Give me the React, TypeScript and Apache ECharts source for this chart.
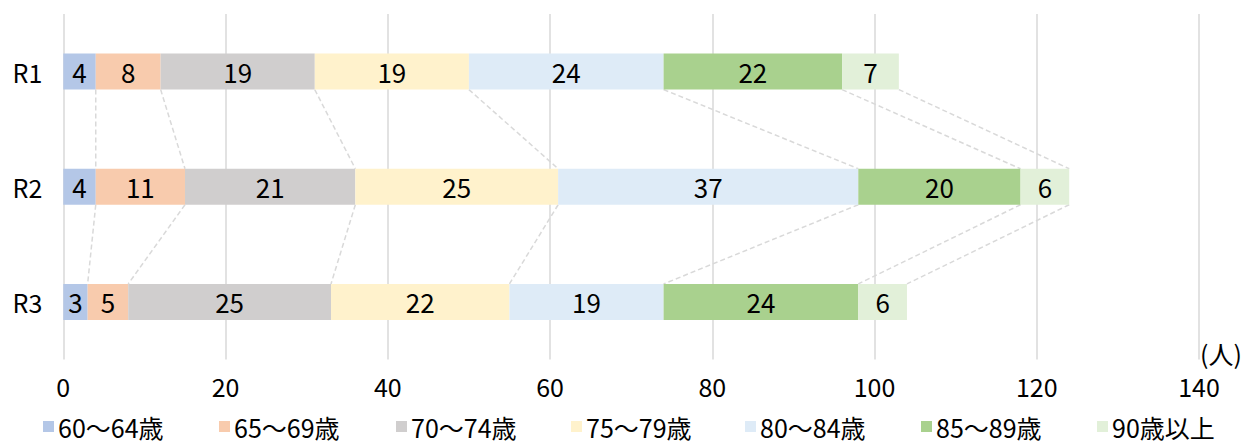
import React, { useEffect, useRef } from "react";
import * as echarts from "echarts";

const categories = ["R1", "R2", "R3"];
const seriesNames = ["60～64歳", "65～69歳", "70～74歳", "75～79歳", "80～84歳", "85～89歳", "90歳以上"];
const seriesColors = ["#b4c7e7", "#f8cbad", "#d0cece", "#fff2cc", "#deebf7", "#a9d18e", "#e2f0d9"];
// values[series][category]
const values = [
  [4, 4, 3],
  [8, 11, 5],
  [19, 21, 25],
  [19, 25, 22],
  [24, 37, 19],
  [22, 20, 24],
  [7, 6, 6],
];
const xMin = 0;
const xMax = 140;
const xInterval = 20;
const xUnit = "(人)";
const legendLefts = [43, 219, 396, 571, 745, 921, 1097];

const FONT = '"Noto Sans CJK JP", "Noto Sans", sans-serif';
const BAR_W = 36;

function buildConnectors() {
  const cum: number[][] = categories.map((_, c) => {
    let s = 0;
    return values.map((row) => (s += row[c]));
  });
  const out: number[][] = [];
  for (let c = 0; c < categories.length - 1; c++) {
    for (let k = 0; k < values.length; k++) {
      out.push([cum[c][k], c, cum[c + 1][k], c + 1]);
    }
  }
  return out;
}

export default function App() {
  const ref = useRef<HTMLDivElement>(null);
  useEffect(() => {
    if (!ref.current) return;
    const chart = echarts.init(ref.current, undefined, { renderer: "svg" });
    const bars = seriesNames.map((name, i) => ({
      name,
      type: "bar",
      stack: "total",
      barWidth: BAR_W,
      data: values[i],
      itemStyle: { color: seriesColors[i] },
      label: {
        show: true,
        position: "inside",
        color: "#000",
        fontSize: 26,
        fontFamily: FONT,
      },
      z: 3,
    }));
    const connectors = {
      type: "custom",
      silent: true,
      z: 2,
      encode: { x: [0, 2], y: [1, 3] },
      data: buildConnectors(),
      renderItem: (params: any, api: any) => {
        const p1 = api.coord([api.value(0), api.value(1)]);
        const p2 = api.coord([api.value(2), api.value(3)]);
        return {
          type: "line",
          shape: { x1: p1[0], y1: p1[1] + BAR_W / 2, x2: p2[0], y2: p2[1] - BAR_W / 2 },
          style: { stroke: "#d9d9d9", lineWidth: 1.5, lineDash: [5, 3] },
        };
      },
    };
    chart.setOption({
      animation: false,
      textStyle: { fontFamily: FONT },
      grid: { left: 63.3, right: 46, top: 14, bottom: 84.5, containLabel: false },
      legend: seriesNames.map((name, i) => ({
        data: [name],
        left: legendLefts[i],
        top: 414,
        padding: 0,
        icon: "rect",
        itemWidth: 11,
        itemHeight: 11,
        itemGap: 5,
        selectedMode: false,
        textStyle: { fontSize: 25, color: "#000", fontFamily: FONT, padding: [0, 0, 0, -1] },
      })),
      xAxis: {
        type: "value",
        min: xMin,
        max: xMax,
        interval: xInterval,
        axisLine: { show: false },
        axisTick: { show: false },
        splitLine: { lineStyle: { color: "#d9d9d9", width: 1.5 } },
        axisLabel: { fontSize: 25, color: "#000", margin: 14, fontFamily: FONT },
      },
      yAxis: {
        type: "category",
        inverse: true,
        data: categories,
        axisLine: { show: false },
        axisTick: { show: false },
        axisLabel: { fontSize: 25, color: "#000", margin: 21, fontFamily: FONT },
      },
      graphic: [
        {
          type: "text",
          left: 1200,
          top: 340,
          style: { text: xUnit, fontSize: 25, fill: "#000", fontFamily: FONT },
        },
      ],
      series: [...bars, connectors],
    });
    return () => chart.dispose();
  }, []);
  return (
    <div
      ref={ref}
      style={{ position: "absolute", left: 0, top: 0, width: 1245, height: 444 }}
    />
  );
}
